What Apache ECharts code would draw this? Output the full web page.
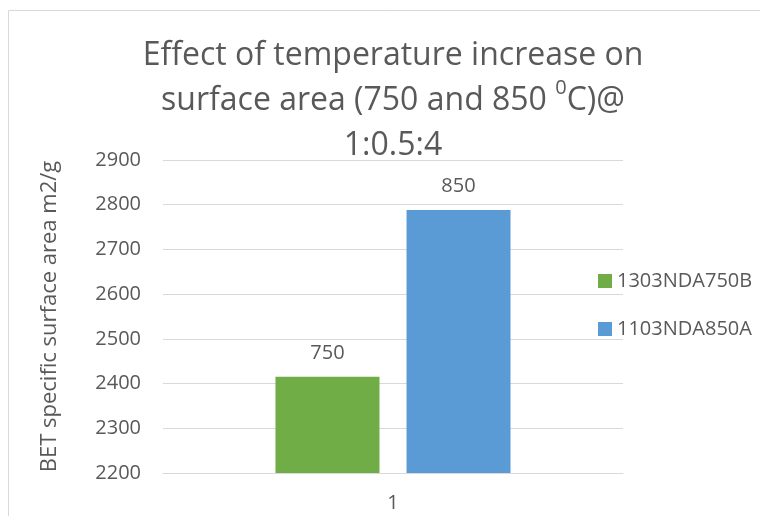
<!DOCTYPE html>
<html>
<head>
<meta charset="utf-8">
<script src="https://cdn.jsdelivr.net/npm/echarts@6/dist/echarts.min.js"></script>
<style>
  html, body { margin: 0; padding: 0; background: #fff; }
  #chart { width: 760px; height: 516px; }
</style>
</head>
<body>
<div id="chart"></div>
<script>
// BET surface area for two activation temperatures
const categories = ['1'];
const seriesNames = ['1303NDA750B', '1103NDA850A'];
const seriesValues = [[2415], [2788]];
const barLabels = ['750', '850'];
const seriesColors = ['#70ad47', '#5b9bd5'];
const yTicks = { min: 2200, max: 2900, interval: 100 };

const textColor = '#595959';
const fontFamily = '"Open Sans", "Noto Sans", sans-serif';

const chart = echarts.init(document.getElementById('chart'), null, { renderer: 'canvas' });

const series = seriesNames.map((name, i) => ({
  name: name,
  type: 'bar',
  data: seriesValues[i],
  itemStyle: { color: seriesColors[i] },
  barWidth: 104,
  barGap: '26%',
  label: {
    show: true,
    position: 'top',
    distance: 14,
    formatter: () => barLabels[i],
    color: textColor,
    fontSize: 20,
    fontFamily: fontFamily
  }
}));

chart.setOption({
  backgroundColor: '#ffffff',
  animation: false,
  graphic: [{
    type: 'rect',
    shape: { x: 8.5, y: 10.5, width: 800, height: 600 },
    style: { fill: 'none', stroke: '#d9d9d9', lineWidth: 1 },
    silent: true,
    z: -10
  }],
  title: {
    text: 'Effect of temperature increase on\nsurface area (750 and 850 {sup|0}C)@\n1:0.5:4',
    left: 388,
    top: 28,
    textAlign: 'center',
    textStyle: {
      color: textColor,
      fontSize: 32,
      fontWeight: 'normal',
      fontFamily: fontFamily,
      lineHeight: 45,
      rich: {
        sup: {
          fontSize: 20,
          color: textColor,
          fontFamily: fontFamily,
          verticalAlign: 'top',
          lineHeight: 30
        }
      }
    }
  },
  legend: {
    orient: 'vertical',
    left: 593,
    top: 266,
    itemWidth: 14,
    itemHeight: 14,
    itemGap: 28,
    icon: 'rect',
    textStyle: { color: textColor, fontSize: 20, fontFamily: fontFamily, padding: [0, 0, 0, 0] },
    data: seriesNames
  },
  grid: { left: 163, right: 137, top: 160, bottom: 43, containLabel: false },
  xAxis: {
    type: 'category',
    data: categories,
    axisLine: { show: true, lineStyle: { color: '#d9d9d9', width: 1 } },
    axisTick: { show: false },
    axisLabel: { color: textColor, fontSize: 20, fontFamily: fontFamily, margin: 20 }
  },
  yAxis: {
    type: 'value',
    min: yTicks.min,
    max: yTicks.max,
    interval: yTicks.interval,
    name: 'BET specific surface area m2/g',
    nameLocation: 'middle',
    nameGap: 102,
    nameTextStyle: { color: textColor, fontSize: 22, fontFamily: fontFamily },
    axisLine: { show: false },
    axisTick: { show: false },
    splitLine: { lineStyle: { color: '#d9d9d9', width: 1 } },
    axisLabel: {
      color: textColor,
      fontSize: 20,
      fontFamily: fontFamily,
      margin: 22,
      formatter: (v) => String(v)
    }
  },
  series: series
});
</script>
</body>
</html>
